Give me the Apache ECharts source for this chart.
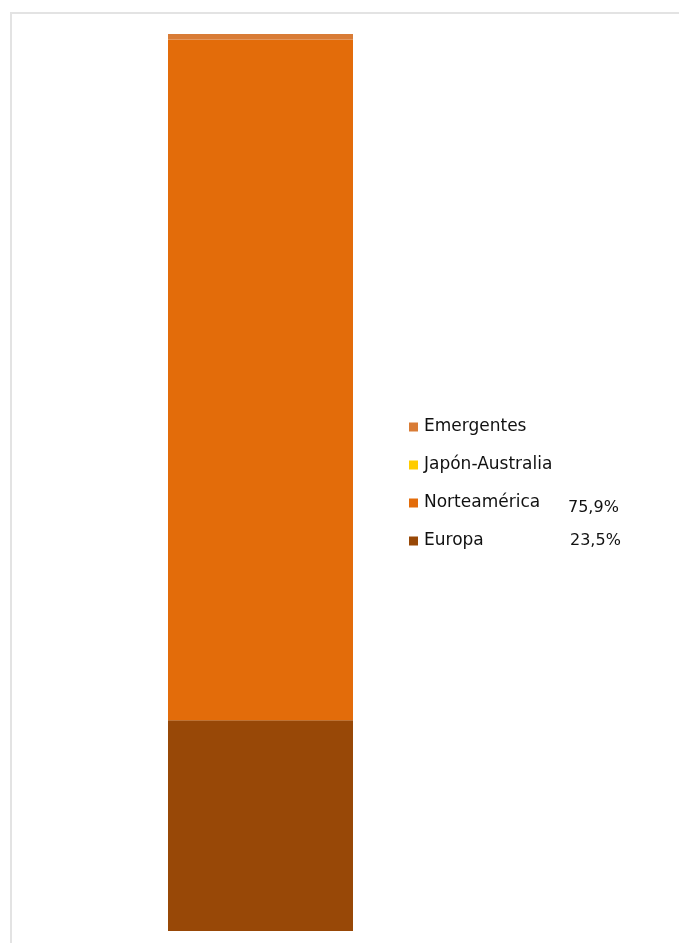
<!DOCTYPE html>
<html>
<head>
<meta charset="utf-8">
<script src="https://cdn.jsdelivr.net/npm/echarts@6/dist/echarts.min.js"></script>
<style>
html,body{margin:0;padding:0;background:#fff;}
#c{width:679px;height:943px;}
</style>
</head>
<body>
<div id="c"></div>
<script>
const categories = [''];
const seriesNames = ['Europa', 'Norteamérica', 'Japón-Australia', 'Emergentes'];
const europa = [23.5];
const norteamerica = [75.9];
const japonAustralia = [0.0];
const emergentes = [0.6];
const legendOrder = ['Emergentes', 'Japón-Australia', 'Norteamérica', 'Europa'];
const valueLabels = { 'Norteamérica': '75,9%', 'Europa': '23,5%' };
const colors = { 'Europa': '#984807', 'Norteamérica': '#e36c0a', 'Japón-Australia': '#ffcc00', 'Emergentes': '#d97c36' };
const seriesData = { 'Europa': europa, 'Norteamérica': norteamerica, 'Japón-Australia': japonAustralia, 'Emergentes': emergentes };

const textFont = 'DejaVu Sans';
const chart = echarts.init(document.getElementById('c'));
chart.setOption({
  animation: false,
  backgroundColor: '#fff',
  graphic: [
    {
      type: 'rect',
      shape: { x: 11, y: 13, width: 700, height: 1000 },
      style: { fill: 'none', stroke: '#e3e3e3', lineWidth: 2 },
      silent: true
    },
    {
      type: 'text', left: 568, top: 500,
      style: { text: valueLabels['Norteamérica'], font: '16px "' + textFont + '"', fill: '#111' }
    },
    {
      type: 'text', left: 570, top: 533,
      style: { text: valueLabels['Europa'], font: '16px "' + textFont + '"', fill: '#111' }
    }
  ],
  grid: { left: 168, width: 185, top: 34, bottom: 12 },
  xAxis: { type: 'category', data: categories, show: false },
  yAxis: { type: 'value', min: 0, max: 100, show: false },
  legend: {
    orient: 'vertical',
    left: 409,
    top: 417,
    padding: 0,
    itemWidth: 9,
    itemHeight: 9,
    itemGap: 18,
    icon: 'rect',
    data: legendOrder,
    textStyle: {
      fontFamily: textFont,
      fontSize: 17,
      color: '#111',
      lineHeight: 20,
      padding: [0, 0, 0, 1]
    }
  },
  series: seriesNames.map(function (n) {
    return {
      name: n,
      type: 'bar',
      stack: 'total',
      barWidth: '100%',
      data: seriesData[n],
      itemStyle: { color: colors[n] }
    };
  })
});
</script>
</body>
</html>
